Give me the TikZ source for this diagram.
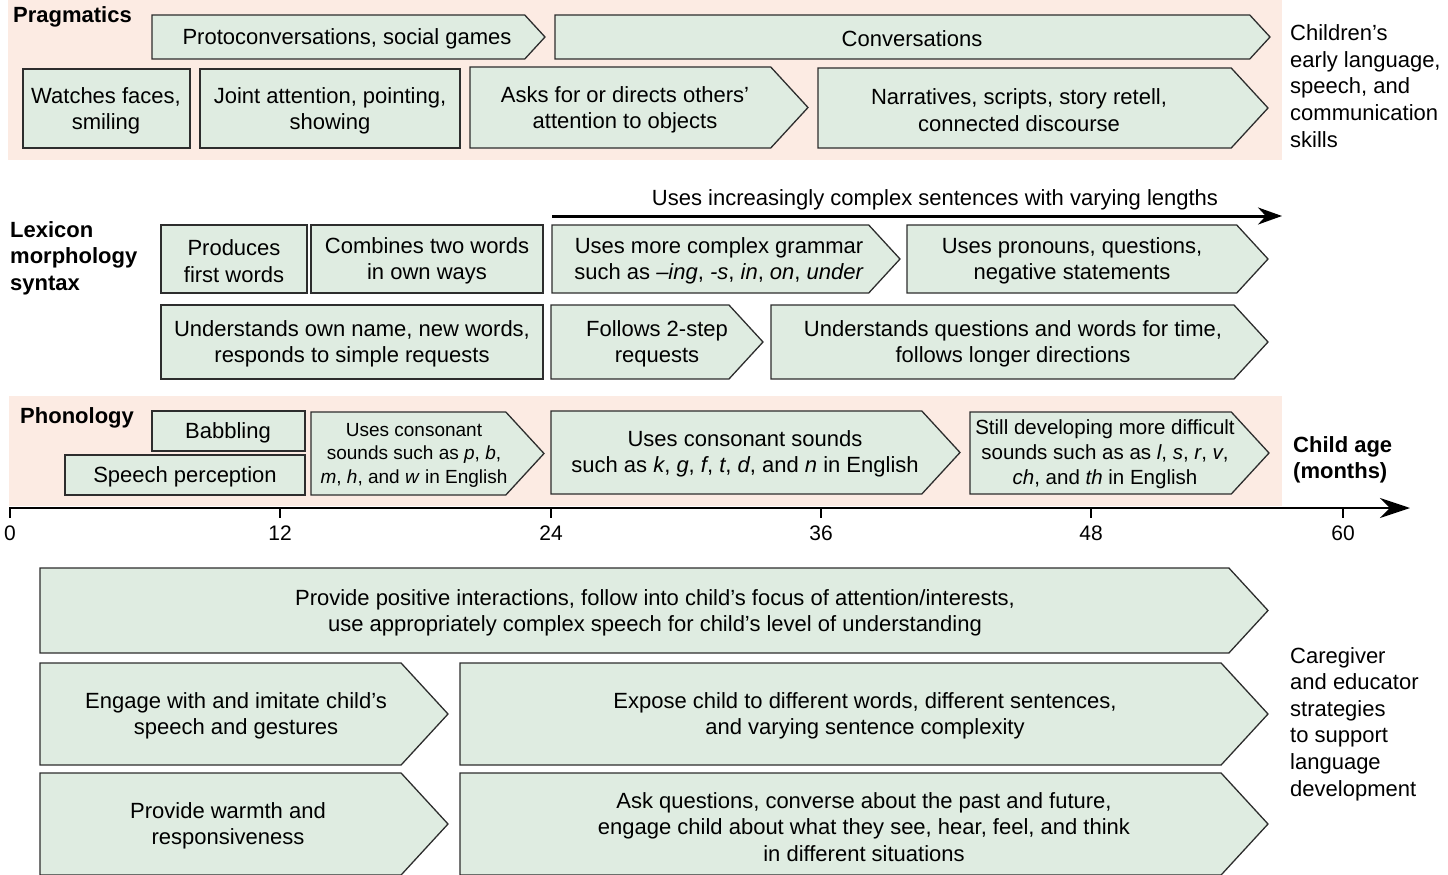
\documentclass[tikz,border=0pt]{standalone}
\usepackage{fontspec}
\setmainfont{Liberation Sans}
\usetikzlibrary{arrows.meta}
\definecolor{boxfill}{RGB}{223,236,225}
\definecolor{bandfill}{RGB}{252,235,227}
\definecolor{boxdraw}{RGB}{45,45,45}
\newcommand{\chevshape}[4]{\draw[boxline] (#1,#2) -- ({#3-0.46*(#4-#2)},#2) -- (#3,{(#2+#4)/2}) -- ({#3-0.46*(#4-#2)},#4) -- (#1,#4) -- cycle;}
\newcommand{\rectshape}[4]{\draw[boxline] (#1,#2) rectangle (#3,#4);}
\tikzset{
  boxline/.style={draw=boxdraw, fill=boxfill, line width=1.3pt},
  band/.style={fill=bandfill, draw=none},
  txt/.style={align=center, inner sep=0pt, yshift=-2pt, font=\fontsize{22}{26.5}\selectfont},
  smalltxt/.style={align=center, inner sep=0pt, yshift=-1pt, font=\fontsize{19}{23.5}\selectfont},
  midtxt/.style={align=center, inner sep=0pt, yshift=-1pt, font=\fontsize{20.5}{25}\selectfont},
  lbl/.style={align=left, anchor=west, inner sep=0pt, font=\bfseries\fontsize{22}{26.5}\selectfont},
  side/.style={align=left, anchor=west, inner sep=0pt, font=\fontsize{22}{26.6}\selectfont},
  ticklbl/.style={inner sep=0pt, font=\fontsize{21}{25}\selectfont},
  axisline/.style={line width=2.8pt, -{Stealth[length=30pt,width=20pt]}},
}
\begin{document}
\begin{tikzpicture}[x=1pt,y=-1pt]
\useasboundingbox (0,0) rectangle (1448,875);
% bands
\fill[band] (8,0) rectangle (1282,160);
\fill[band] (9,396) rectangle (1282,506);

% ---------------- Pragmatics ----------------
\node[lbl] (prag) at (13,17) {Pragmatics};
\chevshape{152}{15}{545}{59}
\node[txt] (proto) at (347,37) {Protoconversations, social games};
\chevshape{555}{15}{1270}{59}
\node[txt] (conv) at (912,37) {Conversations};
\rectshape{23}{69}{190}{148}
\node[txt] (watch) at (106,109) {Watches faces,\\smiling};
\rectshape{200}{69}{460}{148}
\node[txt] (joint) at (330,109) {Joint attention, pointing,\\showing};
\chevshape{470}{67}{808}{148}
\node[txt] (asks) at (625,108) {Asks for or directs others’\\attention to objects};
\chevshape{818}{68}{1268}{148}
\node[txt] (narr) at (1019,108) {Narratives, scripts, story retell,\\connected discourse};
\node[side] (children) at (1290,86) {Children’s\\early language,\\speech, and\\communication\\skills};

% ---------------- Lexicon ----------------
\node[lbl] (lex) at (10,258) {Lexicon\\morphology\\syntax};
\coordinate (sentA) at (552,216);
\coordinate (sentB) at (1282,216);
\draw[line width=3pt, -{Stealth[length=24pt,width=17pt]}] (sentA) -- (sentB);
\node[txt] (sentlbl) at (935,198) {Uses increasingly complex sentences with varying lengths};
\rectshape{161}{225}{307}{293}
\node[txt] (produces) at (234,259) {Produces\\first words};
\rectshape{311}{225}{543}{293}
\node[txt] (combines) at (427,259) {Combines two words\\in own ways};
\chevshape{552}{225}{900}{293}
\node[txt] (grammar) at (719,259) {Uses more complex grammar\\such as \textit{–ing}, \textit{-s}, \textit{in}, \textit{on}, \textit{under}};
\chevshape{907}{225}{1268}{293}
\node[txt] (pronouns) at (1072,259) {Uses pronouns, questions,\\negative statements};
\rectshape{161}{305}{543}{379}
\node[txt] (ownname) at (352,342) {Understands own name, new words,\\responds to simple requests};
\chevshape{551}{305}{763}{379}
\node[txt] (twostep) at (657,342) {Follows 2-step\\requests};
\chevshape{771}{305}{1268}{379}
\node[txt] (questions) at (1013,342) {Understands questions and words for time,\\follows longer directions};

% ---------------- Phonology ----------------
\node[lbl] (phon) at (20,418) {Phonology};
\rectshape{152}{411}{305}{451}
\node[txt] (babbling) at (228,431) {Babbling};
\rectshape{65}{455}{305}{495}
\node[txt] (speech) at (185,475) {Speech perception};
\chevshape{311}{412}{544}{495}
\node[smalltxt] (cons1) at (414,454) {Uses consonant\\sounds such as \textit{p}, \textit{b},\\\textit{m}, \textit{h}, and \textit{w} in English};
\chevshape{551}{411}{960}{494}
\node[txt] (cons2) at (745,452) {Uses consonant sounds\\such as \textit{k}, \textit{g}, \textit{f}, \textit{t}, \textit{d}, and \textit{n} in English};
\chevshape{970}{412}{1269}{494}
\node[midtxt] (cons3) at (1105,453) {Still developing more difficult\\sounds such as as \textit{l}, \textit{s}, \textit{r}, \textit{v},\\\textit{ch}, and \textit{th} in English};
\node[lbl] (age) at (1293,460) {Child age\\(months)};

% ---------------- Axis ----------------
\coordinate (axA) at (9,508);
\coordinate (axB) at (1410,508);
\draw[axisline] (axA) -- (axB);
\foreach \xx/\lab/\nm in {10/0/t0, 280/12/t12, 551/24/t24, 821/36/t36, 1091/48/t48, 1343/60/t60}{
  \draw[line width=1.3pt] (\xx,508) -- (\xx,518);
  \node[ticklbl] (\nm) at (\xx,533) {\lab};
}

% ---------------- Strategies ----------------
\chevshape{40}{568}{1268}{653}
\node[txt] (positive) at (655,611) {Provide positive interactions, follow into child’s focus of attention/interests,\\use appropriately complex speech for child’s level of understanding};
\chevshape{40}{663}{448}{765}
\node[txt] (engage) at (236,714) {Engage with and imitate child’s\\speech and gestures};
\chevshape{460}{663}{1268}{765}
\node[txt] (expose) at (865,714) {Expose child to different words, different sentences,\\and varying sentence complexity};
\chevshape{40}{773}{448}{875}
\node[txt] (warmth) at (228,824) {Provide warmth and\\responsiveness};
\chevshape{460}{773}{1268}{875}
\node[txt] (askq) at (864,825) {Ask questions, converse about the past and future,\\engage child about what they see, hear, feel, and think\\in different situations};
\node[side] (caregiver) at (1290,724) {Caregiver\\and educator\\strategies\\to support\\language\\development};
\end{tikzpicture}
\end{document}
